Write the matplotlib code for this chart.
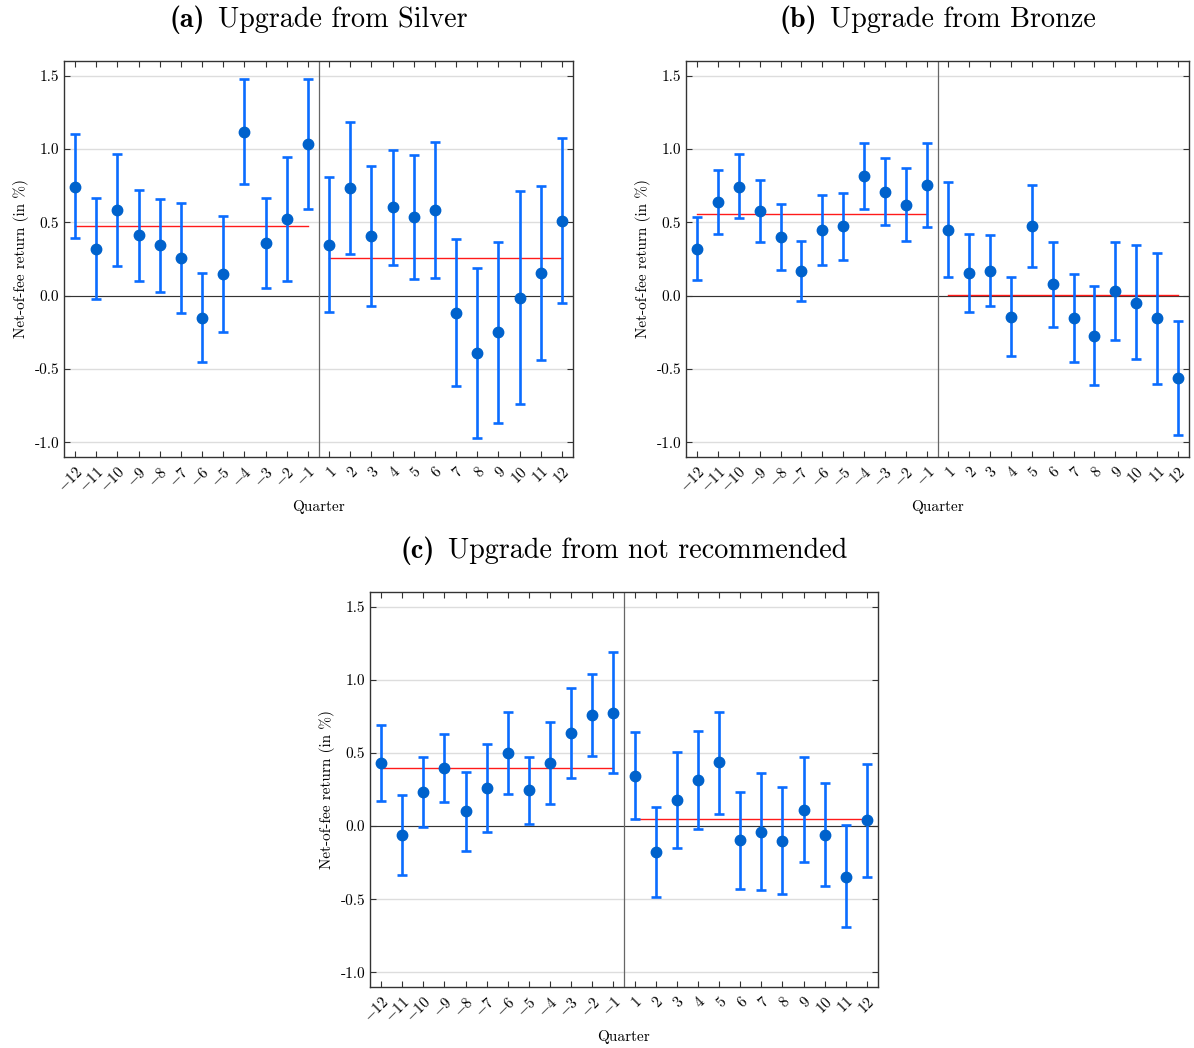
import matplotlib
matplotlib.use("Agg")
import matplotlib.pyplot as plt
import numpy as np

plt.rcParams['font.family'] = ['cmr10', 'DejaVu Serif']
plt.rcParams['mathtext.fontset'] = 'cm'
plt.rcParams['axes.unicode_minus'] = False
plt.rcParams['axes.formatter.use_mathtext'] = False

quarters = list(range(-12, 0)) + list(range(1, 13))
tick_labels = [r'$%d$' % q for q in quarters]

# Panel (a): Upgrade from Silver
a_est = [0.744, 0.32, 0.582, 0.412, 0.344, 0.257, -0.155, 0.148, 1.115, 0.357, 0.521, 1.033,
         0.348, 0.733, 0.407, 0.603, 0.537, 0.587, -0.116, -0.389, -0.25, -0.016, 0.152, 0.512]
a_hi = [1.10, 0.664, 0.967, 0.721, 0.662, 0.635, 0.152, 0.544, 1.474, 0.664, 0.944, 1.479,
        0.81, 1.181, 0.887, 0.994, 0.962, 1.051, 0.385, 0.189, 0.369, 0.712, 0.746, 1.076]
a_lo = [0.39, -0.023, 0.203, 0.102, 0.023, -0.12, -0.455, -0.246, 0.758, 0.055, 0.102, 0.589,
        -0.114, 0.284, -0.073, 0.209, 0.116, 0.123, -0.617, -0.969, -0.871, -0.742, -0.439, -0.05]
a_means = [0.473, 0.259]

# Panel (b): Upgrade from Bronze
b_est = [0.32, 0.639, 0.744, 0.58, 0.40, 0.168, 0.45, 0.473, 0.815, 0.708, 0.619, 0.755,
         0.448, 0.155, 0.171, -0.146, 0.476, 0.077, -0.155, -0.275, 0.032, -0.048, -0.155, -0.562]
b_hi = [0.535, 0.858, 0.965, 0.792, 0.626, 0.373, 0.687, 0.703, 1.038, 0.937, 0.869, 1.044,
        0.774, 0.421, 0.414, 0.127, 0.755, 0.369, 0.146, 0.066, 0.366, 0.344, 0.291, -0.173]
b_lo = [0.105, 0.423, 0.528, 0.366, 0.177, -0.034, 0.212, 0.246, 0.592, 0.48, 0.373, 0.466,
        0.127, -0.111, -0.068, -0.41, 0.196, -0.212, -0.453, -0.612, -0.30, -0.435, -0.603, -0.949]
b_means = [0.555, 0.002]

# Panel (c): Upgrade from not recommended
c_est = [0.43, -0.059, 0.235, 0.398, 0.10, 0.257, 0.501, 0.244, 0.428, 0.635, 0.76, 0.776,
         0.344, -0.178, 0.178, 0.312, 0.435, -0.098, -0.039, -0.102, 0.109, -0.059, -0.346, 0.041]
c_hi = [0.69, 0.214, 0.474, 0.631, 0.371, 0.558, 0.779, 0.474, 0.713, 0.943, 1.04, 1.191,
        0.644, 0.128, 0.503, 0.647, 0.783, 0.232, 0.36, 0.264, 0.471, 0.294, 0.007, 0.426]
c_lo = [0.173, -0.335, -0.007, 0.166, -0.168, -0.043, 0.221, 0.016, 0.148, 0.328, 0.476, 0.36,
        0.046, -0.485, -0.148, -0.023, 0.084, -0.428, -0.439, -0.467, -0.248, -0.41, -0.692, -0.346]
c_means = [0.394, 0.048]

title_tags = ['(a)', '(b)', '(c)']
title_texts = ['Upgrade from Silver', 'Upgrade from Bronze', 'Upgrade from not recommended']

W, H = 1194, 1048
fig = plt.figure(figsize=(W / 100, H / 100), dpi=100)

def rect(l, t, r, b):
    return [l / W, 1 - b / H, (r - l) / W, (b - t) / H]

boxes = [rect(64, 61, 573, 457), rect(686, 61, 1189, 457), rect(370, 592, 878, 987)]
title_y = [19.5, 19.5, 550.5]  # title centre heights in pixels from top
panels = [(a_est, a_lo, a_hi, a_means), (b_est, b_lo, b_hi, b_means), (c_est, c_lo, c_hi, c_means)]

err_col = '#0a6cff'
pt_col = '#0062cc'

renderer = fig.canvas.get_renderer()

for box, (est, lo, hi, means), tag, ttl, ty in zip(boxes, panels, title_tags, title_texts, title_y):
    ax = fig.add_axes(box)
    x = np.arange(len(quarters))
    est = np.array(est); lo = np.array(lo); hi = np.array(hi)
    ax.set_xlim(-0.52, 23.52)
    ax.set_ylim(-1.1, 1.6)
    ax.set_yticks([-1.0, -0.5, 0.0, 0.5, 1.0, 1.5])
    ax.set_yticklabels(['-1.0', '-0.5', '0.0', '0.5', '1.0', '1.5'])
    ax.yaxis.grid(True, color='#dddddd', lw=1.0, zorder=0)
    ax.set_axisbelow(True)
    ax.axhline(0, color='#333333', lw=0.8, zorder=1)
    ax.axvline(11.5, color='#666666', lw=0.9, zorder=1)
    ax.plot([0, 11], [means[0], means[0]], color='#ff1a1a', lw=1.0, zorder=2)
    ax.plot([12, 23], [means[1], means[1]], color='#ff1a1a', lw=1.0, zorder=2)
    ax.errorbar(x, est, yerr=[est - lo, hi - est], fmt='o', color=pt_col, ecolor=err_col,
                elinewidth=1.9, capsize=3.6, capthick=1.9, markersize=7.5, zorder=3)
    ax.set_xticks(x)
    ax.set_xticklabels(tick_labels, rotation=45, ha='right', rotation_mode='anchor')
    ax.tick_params(axis='both', direction='in', top=True, right=True, length=4,
                   width=0.8, labelsize=11, color='#333333')
    ax.tick_params(axis='x', pad=5)
    for s in ax.spines.values():
        s.set_color('#333333')
        s.set_linewidth(1.0)
    ax.set_xlabel('Quarter', fontsize=11, labelpad=4)
    ax.set_ylabel('Net-of-fee return (in %)', fontsize=11)

    # Title: bold tag + regular text, centred over the axes
    cx = (box[0] + box[2] / 2)
    yy = 1 - ty / H
    t1 = fig.text(0, yy, tag, fontsize=20.3, family=['cmb10', 'DejaVu Serif'], va='center', ha='left')
    t2 = fig.text(0, yy, ttl, fontsize=20.3, va='center', ha='left')
    w1 = t1.get_window_extent(renderer).width / W
    w2 = t2.get_window_extent(renderer).width / W
    gap = 13 / W
    total = w1 + gap + w2
    t1.set_x(cx - total / 2)
    t2.set_x(cx - total / 2 + w1 + gap)

fig.savefig('out.png', dpi=100)
